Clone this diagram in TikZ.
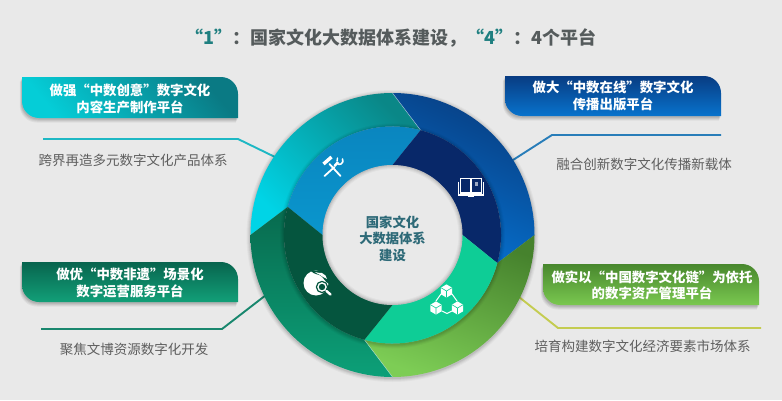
\documentclass[tikz,border=0pt]{standalone}
\usepackage{fontspec}
\setmainfont{Noto Sans CJK SC}
\usetikzlibrary{calc}
\definecolor{bgc}{HTML}{E9E9E9}
\definecolor{titlegrey}{HTML}{555B5C}
\definecolor{titleteal}{HTML}{1F7F80}
\definecolor{centertxt}{HTML}{2E6A78}
\definecolor{subgrey}{HTML}{5E5E5E}
\definecolor{aLo}{HTML}{05CDD7}\definecolor{aHi}{HTML}{0A7A84}
\definecolor{bHi}{HTML}{083C82}\definecolor{bLo}{HTML}{0873CD}
\definecolor{cHi}{HTML}{08644E}\definecolor{cLo}{HTML}{12A078}
\definecolor{dHi}{HTML}{48872D}\definecolor{dLo}{HTML}{7AC850}
\definecolor{ringA1}{HTML}{00D4E6}\definecolor{ringA2}{HTML}{0A8787}
\definecolor{ringB1}{HTML}{083E82}\definecolor{ringB2}{HTML}{0573D2}
\definecolor{ringD1}{HTML}{46822D}\definecolor{ringD2}{HTML}{7DCD55}
\definecolor{ringC1}{HTML}{086A4E}\definecolor{ringC2}{HTML}{0CA078}
\definecolor{inA1}{HTML}{0A84BE}\definecolor{inA2}{HTML}{0A96CD}
\definecolor{inB}{HTML}{082869}
\definecolor{inD}{HTML}{0ECD96}
\definecolor{inC}{HTML}{05553E}
\definecolor{lnA}{HTML}{1EB8C4}\definecolor{lnB}{HTML}{287DB9}
\definecolor{lnC}{HTML}{19876E}\definecolor{lnD}{HTML}{C4CC50}
\newcommand{\badgepath}[4]{(#1+2,#2) -- (#3-17,#2) arc[start angle=90,end angle=0,radius=17pt] -- (#3,#4) -- (#1+17,#4) arc[start angle=270,end angle=180,radius=17pt] -- (#1,#2) -- cycle}
\tikzset{
  badgetext/.style={text=white,font=\fontsize{13.4}{16.2}\selectfont\bfseries,align=center,inner sep=0pt},
  subtext/.style={text=subgrey,font=\fontsize{13.5}{16}\selectfont,inner sep=0pt},
  centertext/.style={text=centertxt,font=\fontsize{13.3}{16.5}\selectfont\bfseries,align=center,inner sep=0pt},
  titletext/.style={text=titlegrey,font=\fontsize{18}{22}\selectfont\bfseries,inner sep=0pt},
  leader/.style={line width=1.9pt,line join=round},
  iconline/.style={draw=white,line width=1.1pt,line cap=round,line join=round},
}
\begin{document}
\begin{tikzpicture}[x=1pt,y=1pt]
\useasboundingbox (0,0) rectangle (782,400);
\fill[bgc] (0,0) rectangle (782,400);

% title
\node[titletext] (title) at (391,362) {\textcolor{titleteal}{“1”}：国家文化大数据体系建设，\textcolor{titleteal}{“4”}：4个平台};

% badge shadows
\foreach \o/\a in {4.5/0.05,3.5/0.06,2.5/0.07,1.5/0.08}{
  \fill[black,opacity=\a,shift={(-0.5*\o,-\o)}] \badgepath{22}{323}{238}{282};
  \fill[black,opacity=\a,shift={(-0.5*\o,-\o)}] \badgepath{505}{324}{721}{284};
  \fill[black,opacity=\a,shift={(-0.5*\o,-\o)}] \badgepath{22}{138}{238}{98};
  \fill[black,opacity=\a,shift={(-0.5*\o,-\o)}] \badgepath{543}{136}{759}{95};
}
% badges
\shade[bottom color=aLo,top color=aHi,shading angle=-50] \badgepath{22}{323}{238}{282};
\shade[top color=bHi,bottom color=bLo] \badgepath{505}{324}{721}{284};
\shade[top color=cHi,bottom color=cLo] \badgepath{22}{138}{238}{98};
\shade[top color=dHi,bottom color=dLo] \badgepath{543}{136}{759}{95};

\node[badgetext] (b1) at (130,301) {做强“中数创意”数字文化\\内容生产制作平台};
\node[badgetext] (b2) at (613,304) {做大“中数在线”数字文化\\传播出版平台};
\node[badgetext] (b3) at (130,117) {做优“中数非遗”场景化\\数字运营服务平台};
\node[badgetext] (b4) at (652,115) {做实以“中国数字文化链”为依托\\的数字资产管理平台};

\node[subtext] (s1) at (133,240) {跨界再造多元数字文化产品体系};
\node[subtext] (s2) at (644,236) {融合创新数字文化传播新载体};
\node[subtext] (s3) at (134,51) {聚焦文博资源数字化开发};
\node[subtext] (s4) at (642.5,54) {培育构建数字文化经济要素市场体系};

% leaders
\coordinate (l1a) at (43,261); \coordinate (l1b) at (238,261); \coordinate (l1c) at (275,243);
\coordinate (l2a) at (721,265); \coordinate (l2b) at (552,265); \coordinate (l2c) at (513,240);
\coordinate (l3a) at (41,71); \coordinate (l3b) at (222,71); \coordinate (l3c) at (266,105);
\coordinate (l4a) at (761,72); \coordinate (l4b) at (558,72); \coordinate (l4c) at (519,103);
\draw[leader,draw=lnA] (l1a) -- (l1b) -- (l1c);
\draw[leader,draw=lnB] (l2a) -- (l2b) -- (l2c);
\draw[leader,draw=lnC] (l3a) -- (l3b) -- (l3c);
\draw[leader,draw=lnD] (l4a) -- (l4b) -- (l4c);

\begin{scope}[shift={(392.5,165)}]
\def\Ro{142}\def\Rm{108.5}\def\Ri{70}
% ring shadow
\foreach \r/\a in {146/0.03,145/0.04,144/0.05,143/0.07}{
  \fill[black,opacity=\a] (0,-1) circle[radius=\r pt];
}
% outer segments
\shade[bottom color=ringA1,top color=ringA2,shading angle=-45]
  (90:\Ro pt) arc[start angle=90,end angle=180,radius=\Ro pt] -- (165:\Rm pt) arc[start angle=165,end angle=75,radius=\Rm pt] -- cycle;
\shade[top color=ringB1,bottom color=ringB2,shading angle=-25]
  (0:\Ro pt) arc[start angle=0,end angle=90,radius=\Ro pt] -- (75:\Rm pt) arc[start angle=75,end angle=-15,radius=\Rm pt] -- cycle;
\shade[top color=ringD1,bottom color=ringD2,shading angle=-20]
  (-90:\Ro pt) arc[start angle=-90,end angle=0,radius=\Ro pt] -- (-15:\Rm pt) arc[start angle=-15,end angle=-105,radius=\Rm pt] -- cycle;
\shade[top color=ringC1,bottom color=ringC2]
  (180:\Ro pt) arc[start angle=180,end angle=270,radius=\Ro pt] -- (255:\Rm pt) arc[start angle=255,end angle=165,radius=\Rm pt] -- cycle;
% shadow of the inner ring on the outer ring
\foreach \w/\a in {8/0.03,6/0.04,4/0.05,2/0.06}{
  \draw[black,opacity=\a,line width=\w pt] (0,-1) circle[radius=\Rm pt];
}
% light seams
\draw[white,opacity=.55,line width=.5pt] (90:\Ro pt) -- (75:\Rm pt);
\draw[white,opacity=.55,line width=.5pt] (-90:\Ro pt) -- (-105:\Rm pt);
% inner segments
\shade[top color=inA1,bottom color=inA2]
  (75:\Rm pt) arc[start angle=75,end angle=165,radius=\Rm pt] -- (180:\Ri pt) -- (90:\Ri pt) -- cycle;
\fill[inB]
  (-15:\Rm pt) arc[start angle=-15,end angle=75,radius=\Rm pt] -- (90:\Ri pt) -- (0:\Ri pt) -- cycle;
\fill[inD]
  (-105:\Rm pt) arc[start angle=-105,end angle=-15,radius=\Rm pt] -- (0:\Ri pt) -- (-90:\Ri pt) -- cycle;
\fill[inC]
  (165:\Rm pt) arc[start angle=165,end angle=255,radius=\Rm pt] -- (-90:\Ri pt) -- (180:\Ri pt) -- cycle;
% hub
\fill[bgc] (0,0) circle[radius=\Ri pt];
\begin{scope}
\clip (0,0) circle[radius=\Ri pt];
\foreach \w/\a in {8/0.03,6/0.04,4/0.05,2/0.07}{
  \draw[black,opacity=\a,line width=\w pt] (0,0) circle[radius=\Ri pt];
}
\end{scope}
\end{scope}

\node[centertext] (hub) at (392.5,161.5) {国家文化\\大数据体系\\建设};

% tools icon
\begin{scope}[shift={(332.5,233)}]
\draw[iconline,line width=1.8pt] (-3,3) -- (8,-9);
\draw[white,line width=3.4pt] (-9,3) -- (-1,10);
\draw[iconline,line width=1.8pt] (2,0) -- (-8,-9);
\draw[iconline,line width=2.4pt,line cap=butt] (5.5,5) -- (2,1);
\draw[iconline,line width=1.6pt] (10,8) arc[start angle=30,end angle=-130,radius=3.6pt];
\draw[iconline,line width=1.4pt] (4.5,6) -- (5,9);
\end{scope}

% book icon
\begin{scope}[shift={(471,212.5)}]
\draw[white,line width=1.1pt] (-10.5,-5.5) rectangle (-.7,9);
\draw[white,line width=1.1pt] (.7,-5.5) rectangle (10.5,9);
\draw[white,line width=1.1pt] (-12.5,6) -- (-12.5,-7.5) -- (12.5,-7.5) -- (12.5,6);
\fill[white] (-3,-9.5) rectangle (3,-7.5);
\fill[white,opacity=.6] (3.5,2) rectangle (7,6);
\end{scope}

% cubes icon
\begin{scope}[shift={(447,100)}]
\draw[iconline,line width=1pt] (-6,6) -- (-11,-1) (5,6) -- (10,-1) (-5,-11) -- (0,-13.5) -- (5,-11);
\foreach \px/\py in {-.5/9,-11/-8,10.5/-8}{
  \begin{scope}[shift={(\px,\py)}]
    \fill[white] (0,6.6) -- (5.6,3.3) -- (5.6,-3.3) -- (0,-6.6) -- (-5.6,-3.3) -- (-5.6,3.3) -- cycle;
    \draw[inD,line width=.6pt] (-5.6,3.3) -- (0,0) -- (5.6,3.3) (0,0) -- (0,-6.6);
  \end{scope}
}
\end{scope}

% globe icon
\begin{scope}[shift={(316,117)}]
\fill[white] (0,0) circle[radius=12.5pt];
\fill[inC] (-5,11.8) .. controls (-1,8) and (3,9) .. (5,7) .. controls (8,5) and (9,1) .. (13,-1) -- (14,13) -- cycle;
\fill[white] (-1,11) .. controls (2,9) and (4,11) .. (6,10) .. controls (9,9) and (11,6) .. (11,4) .. controls (8,6) and (6,6) .. (4,8) .. controls (2,9) and (0,10) .. (-1,11) -- cycle;
\draw[inC,line width=1.2pt,fill=white] (6,-4) circle[radius=5.6pt];
\fill[inC] (6,-4) circle[radius=3.2pt];
\draw[white,line width=2.4pt,line cap=round] (10.5,-8) -- (14.5,-11.5);
\end{scope}
\end{tikzpicture}
\end{document}
